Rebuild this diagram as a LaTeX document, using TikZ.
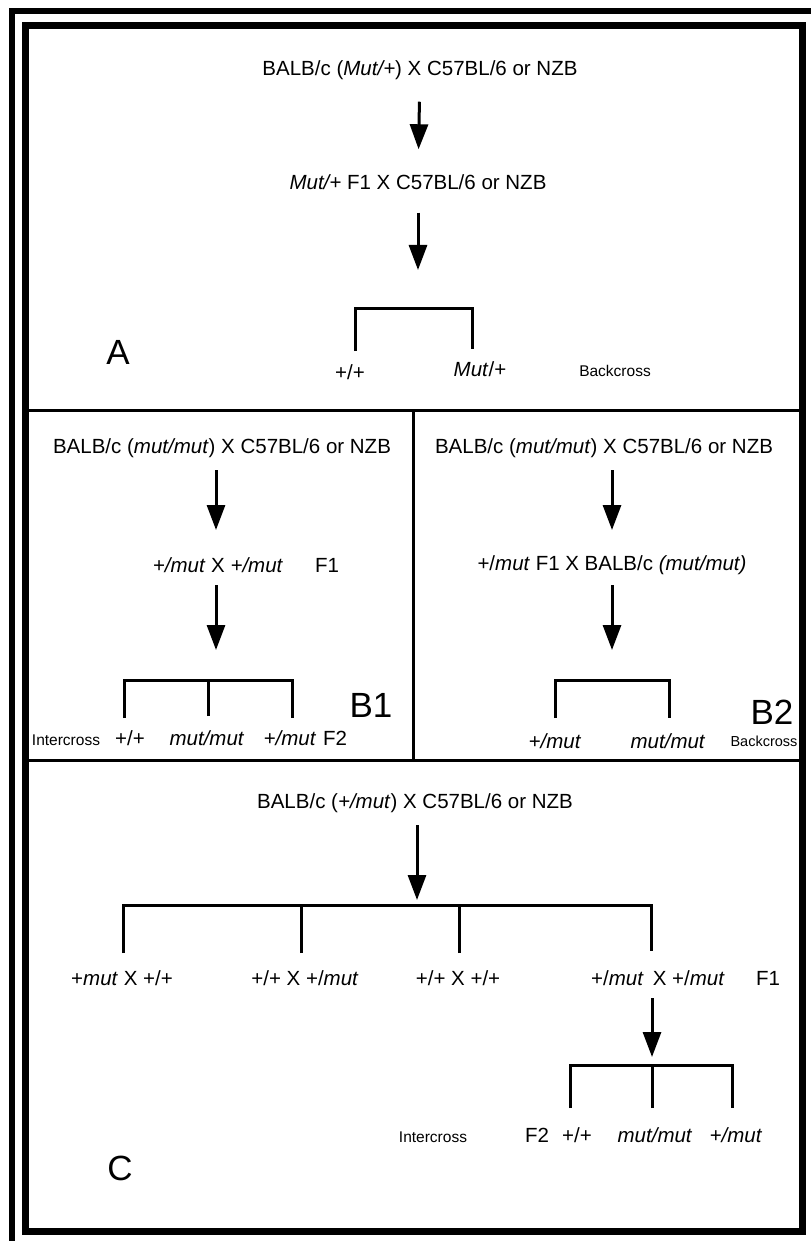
\documentclass[tikz,border=0pt]{standalone}
\usepackage{fontspec}
\setmainfont{Liberation Sans}
\usetikzlibrary{arrows.meta}

\begin{document}
\begin{tikzpicture}[x=1pt,y=-1pt,
  txt/.style={inner sep=0pt,font=\fontsize{20.5}{24}\selectfont},
  note/.style={inner sep=0pt,font=\fontsize{15.5}{19}\selectfont},
  tag/.style={inner sep=0pt,font=\fontsize{35}{40}\selectfont},
  leg/.style={line width=3pt},
  arr/.style 2 args={line width=3pt,-{Triangle[length=25pt,width=18pt]},
    shorten <=#1,shorten >=#2},
  frame/.style={line width=7pt},
  divider/.style={line width=3pt}]
  \useasboundingbox (0,0) rectangle (811,1241);
  % frames and panel dividers
  \draw[line width=6pt] (12,1241) -- (12,11) -- (811,11);
  \draw[frame] (25.5,25.5) rectangle (802.5,1231);
  \draw[divider] (29,410) -- (799,410);
  \draw[divider] (413,410) -- (413,760);
  \draw[divider] (29,760) -- (799,760);

  % panel A
  \node[txt] (a1) at (420,70) {BALB/c (\textit{Mut/+}) X C57BL/6 or NZB};
  \node[txt] (a2) at (418,182) {\textit{Mut/+} F1 X C57BL/6 or NZB};
  \coordinate (kA) at (418,308);
  \coordinate (kA1) at (355,351);
  \coordinate (kA2) at (472,349);
  \node[txt] (a3) at (350,372) {+/+};
  \node[txt] (a4) at (480,369) {\textit{Mut}/+};
  \node[note] (a5) at (615,371) {Backcross};
  \node[tag] (tA) at (118,352) {A};
  \draw[arr={22pt}{25pt}] (a1) -- (a2);
  \draw[arr={23pt}{38pt}] (a2) -- (kA);
  \draw[leg] (kA1) |- (kA) -| (kA2);

  % panel B1
  \node[txt] (b1) at (222,448) {BALB/c (\textit{mut/mut}) X C57BL/6 or NZB};
  \node[txt] (b2) at (218,565) {\textit{+/mut} X \textit{+/mut}};
  \node[txt] (b3) at (327,565) {F1};
  \coordinate (kB) at (216,680);
  \coordinate (kB1) at (124,718);
  \coordinate (kB2) at (208,716);
  \coordinate (kB3) at (292,718);
  \node[note] (b4) at (66,740) {Intercross};
  \node[txt] (b5) at (130,738) {+/+};
  \node[txt] (b6) at (207,738) {\textit{mut/mut}};
  \node[txt] (b7) at (290,738) {\textit{+/mut}};
  \node[txt] (b8) at (335,738) {F2};
  \node[tag] (tB1) at (371,705) {B1};
  \draw[arr={22pt}{35pt}] (b1.center -| kB) -- (b2.center -| kB);
  \draw[arr={20pt}{30pt}] (b2.center -| kB) -- (kB);
  \draw[leg] (kB1) |- (kB) -| (kB3);
  \draw[leg] (kB2) -- (kB2 |- kB);

  % panel B2
  \node[txt] (c1) at (604,448) {BALB/c (\textit{mut/mut}) X C57BL/6 or NZB};
  \node[txt] (c2) at (612,565) {+/\textit{mut} F1 X BALB/c \textit{(mut/mut)}};
  \coordinate (kD) at (612,680);
  \coordinate (kD1) at (555,718);
  \coordinate (kD2) at (669,718);
  \node[txt] (c3) at (555,741) {\textit{+/mut}};
  \node[txt] (c4) at (668,741) {\textit{mut/mut}};
  \node[tag] (tB2) at (772,712) {B2};
  \node[note,font=\fontsize{14.5}{17}\selectfont] (c5) at (764,741) {Backcross};
  \draw[arr={22pt}{35pt}] (c1.center -| kD) -- (c2.center -| kD);
  \draw[arr={20pt}{30pt}] (c2.center -| kD) -- (kD);
  \draw[leg] (kD1) |- (kD) -| (kD2);

  % panel C
  \node[txt] (d1) at (415,803) {BALB/c (\textit{+/mut}) X C57BL/6 or NZB};
  \coordinate (kC) at (417,905);
  \coordinate (kC1) at (123,953);
  \coordinate (kC2) at (301,953);
  \coordinate (kC3) at (459,953);
  \coordinate (kC4) at (651,951);
  \node[txt] (d2) at (122,978) {+\textit{mut} X +/+};
  \node[txt] (d3) at (305,978) {+/+ X +/\textit{mut}};
  \node[txt] (d4) at (458,978) {+/+ X +/+};
  \node[txt] (d5) at (658,978) {+/\textit{mut}\, X +/\textit{mut}};
  \node[txt] (d6) at (768,978) {F1};
  \coordinate (kE) at (652,1065);
  \coordinate (kE1) at (570,1108);
  \coordinate (kE2) at (652,1108);
  \coordinate (kE3) at (732,1108);
  \node[note] (d7) at (433,1137) {Intercross};
  \node[txt] (d8) at (537,1135) {F2};
  \node[txt] (d9) at (577,1135) {+/+};
  \node[txt] (d10) at (655,1135) {\textit{mut/mut}};
  \node[txt] (d11) at (736,1135) {\textit{+/mut}};
  \node[tag] (tC) at (120,1168) {C};
  \draw[arr={22pt}{5pt}] (d1.center -| kC) -- (kC);
  \draw[arr={20pt}{8pt}] (d5.center -| kE) -- (kE);
  \draw[leg] (kC1) |- (kC) -| (kC4);
  \draw[leg] (kC2) -- (kC2 |- kC);
  \draw[leg] (kC3) -- (kC3 |- kC);
  \draw[leg] (kE1) |- (kE) -| (kE3);
  \draw[leg] (kE2) -- (kE);
\end{tikzpicture}
\end{document}
